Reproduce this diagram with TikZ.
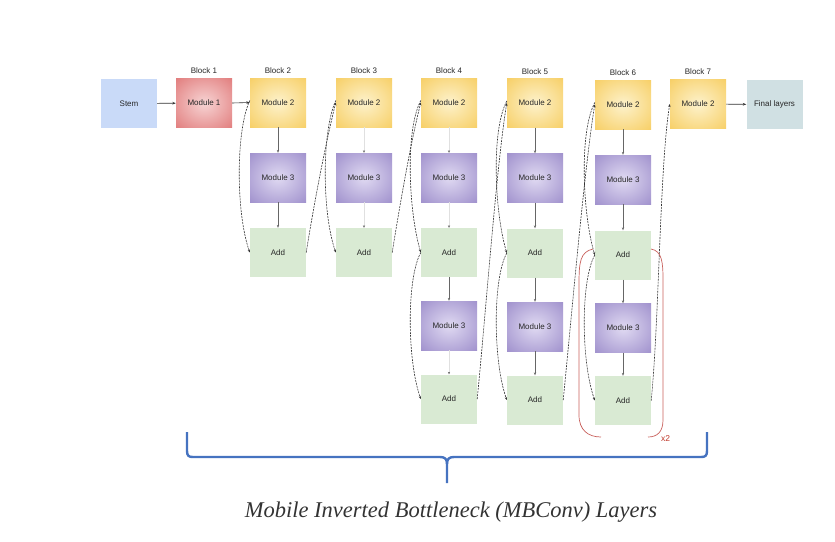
\documentclass[tikz,border=0pt]{standalone}
\usepackage{fontspec}
\setmainfont{Liberation Sans}
\newfontfamily\capfont{Liberation Serif}
\usetikzlibrary{arrows.meta}
\definecolor{stemblue}{HTML}{C9DAF8}
\definecolor{finalc}{HTML}{D0E0E3}
\definecolor{addgreen}{HTML}{D9EAD3}
\definecolor{yout}{HTML}{F5C343}
\definecolor{yin}{HTML}{FDF2CC}
\definecolor{rout}{HTML}{DA6060}
\definecolor{rin}{HTML}{F7D4D4}
\definecolor{pout}{HTML}{8A78C0}
\definecolor{pin}{HTML}{E0DAF2}
\definecolor{parc}{HTML}{C8605C}
\definecolor{xtwo}{HTML}{C0392B}
\definecolor{braceblue}{HTML}{4673C0}
\definecolor{linec}{HTML}{333333}
\pgfdeclareradialshading{yshade}{\pgfpoint{0bp}{0bp}}{color(0bp)=(yin); color(48bp)=(yout); color(60bp)=(yout)}
\pgfdeclareradialshading{rshade}{\pgfpoint{0bp}{0bp}}{color(0bp)=(rin); color(48bp)=(rout); color(60bp)=(rout)}
\pgfdeclareradialshading{pshade}{\pgfpoint{0bp}{0bp}}{color(0bp)=(pin); color(48bp)=(pout); color(60bp)=(pout)}
\begin{document}
\begin{tikzpicture}[x=1pt,y=-1pt,
  box/.style={minimum width=56pt, minimum height=49pt, inner sep=0pt, draw=none,
    font=\fontsize{8}{9.5}\selectfont, text=black!85},
  stembox/.style={box, fill=stemblue},
  finalbox/.style={box, fill=finalc},
  addbox/.style={box, fill=addgreen},
  mtwo/.style={box, shading=yshade},
  mone/.style={box, shading=rshade},
  mthree/.style={box, shading=pshade},
  blk/.style={font=\fontsize{8}{9.5}\selectfont, text=black!85},
  flow/.style={draw=linec, line width=0.6pt, -{Stealth[length=3.5pt,width=2.6pt]}},
  vflow/.style={draw=black!60, line width=0.5pt, -{Stealth[length=3pt,width=2.4pt]}},
  faintflow/.style={draw=black!12, line width=0.4pt, -{Stealth[length=2.5pt,width=2.2pt,color=black!60]}},
  skip/.style={draw=linec, line width=0.6pt, dash pattern=on 2pt off 1pt, -{Stealth[length=3pt,width=2.4pt]}},
  parpath/.style={draw=parc, line width=0.7pt},
]
\useasboundingbox (0,0) rectangle (835,541);

% top row
\node[stembox] (stem) at (129,103.5) {Stem};
\node[mone] (m1) at (204,103) {Module 1};
\node[blk] (l1) at (204,71) {Block 1};

% block 2
\node[mtwo] (b2m2) at (278,102.5) {Module 2};
\node[mthree] (b2m3) at (278,177.5) {Module 3};
\node[addbox] (b2a) at (278,252.5) {Add};
\node[blk] (l2) at (278,71) {Block 2};

% block 3
\node[mtwo] (b3m2) at (364,102.5) {Module 2};
\node[mthree] (b3m3) at (364,177.5) {Module 3};
\node[addbox] (b3a) at (364,252.5) {Add};
\node[blk] (l3) at (364,71) {Block 3};

% block 4
\node[mtwo] (b4m2) at (449,102.5) {Module 2};
\node[mthree] (b4m3) at (449,177.5) {Module 3};
\node[addbox] (b4a) at (449,252.5) {Add};
\node[mthree] (b4m3b) at (449,325.5) {Module 3};
\node[addbox] (b4b) at (449,399) {Add};
\node[blk] (l4) at (449,71) {Block 4};

% block 5
\node[mtwo] (b5m2) at (535,103) {Module 2};
\node[mthree] (b5m3) at (535,178) {Module 3};
\node[addbox] (b5a) at (535,253) {Add};
\node[mthree] (b5m3b) at (535,326.5) {Module 3};
\node[addbox] (b5b) at (535,400) {Add};
\node[blk] (l5) at (535,72) {Block 5};

% block 6
\node[mtwo] (b6m2) at (623,104.5) {Module 2};
\node[mthree] (b6m3) at (623,179.5) {Module 3};
\node[addbox] (b6a) at (623,255) {Add};
\node[mthree] (b6m3b) at (623,328) {Module 3};
\node[addbox] (b6b) at (623,400.5) {Add};
\node[blk] (l6) at (623,73) {Block 6};

% block 7
\node[mtwo] (b7m2) at (698,104) {Module 2};
\node[blk] (l7) at (698,72) {Block 7};
\node[finalbox] (fin) at (774.5,104.5) {Final layers};

% main flow
\draw[flow] (stem) -- (m1);
\draw[flow] (m1.east) -- (b2m2.west);
\draw[flow] (b7m2) -- (fin);

% vertical flows
\draw[vflow] (b2m2) -- (b2m3);
\draw[vflow] (b2m3) -- (b2a);
\draw[faintflow] (b3m2) -- (b3m3);
\draw[faintflow] (b3m3) -- (b3a);
\draw[faintflow] (b4m2) -- (b4m3);
\draw[faintflow] (b4m3) -- (b4a);
\draw[vflow] (b4a) -- (b4m3b);
\draw[faintflow] (b4m3b) -- (b4b);
\draw[vflow] (b5m2) -- (b5m3);
\draw[vflow] (b5m3) -- (b5a);
\draw[vflow] (b5a) -- (b5m3b);
\draw[vflow] (b5m3b) -- (b5b);
\draw[vflow] (b6m2) -- (b6m3);
\draw[vflow] (b6m3) -- (b6a);
\draw[vflow] (b6a) -- (b6m3b);
\draw[vflow] (b6m3b) -- (b6b);

% skip connections within blocks
\draw[skip] ([yshift=2pt]b2m2.west) .. controls +(-14,30) and +(-14,-40) .. (b2a.west);
\draw[skip] ([yshift=2pt]b3m2.west) .. controls +(-14,30) and +(-14,-40) .. (b3a.west);
\draw[skip] ([yshift=2pt]b4m2.west) .. controls +(-16,30) and +(-12,-40) .. (b4a.west);
\draw[skip] (b4a.west) .. controls +(-14,25) and +(-14,-40) .. (b4b.west);
\draw[skip] ([yshift=2pt]b5m2.west) .. controls +(-16,30) and +(-12,-40) .. (b5a.west);
\draw[skip] (b5a.west) .. controls +(-14,25) and +(-14,-40) .. (b5b.west);
\draw[skip] ([yshift=2pt]b6m2.west) .. controls +(-16,30) and +(-12,-40) .. (b6a.west);
\draw[skip] (b6a.west) .. controls +(-14,25) and +(-14,-40) .. (b6b.west);

% skip connections between blocks
\draw[skip] (b2a.east) .. controls +(8,-50) and +(-10,40) .. (b3m2.west);
\draw[skip] (b3a.east) .. controls +(8,-50) and +(-10,40) .. (b4m2.west);
\draw[skip] (b4b.east) .. controls +(8,-80) and +(-10,60) .. (b5m2.west);
\draw[skip] (b5b.east) .. controls +(8,-80) and +(-10,60) .. (b6m2.west);
\draw[skip] (b6b.east) .. controls +(8,-80) and +(-10,60) .. (b7m2.west);

% repeat parentheses
\draw[parpath] (593,249) .. controls (580,252) and (579,262) .. (579,285) -- (579,415)
  .. controls (579,430) and (588,437) .. (601,437);
\draw[parpath] (651,249) .. controls (662,251) and (663,262) .. (663,280) -- (663,420)
  .. controls (663,432) and (657,437) .. (648,437);
\node[text=xtwo, font=\fontsize{8.5}{9}\selectfont] (xtwo) at (665.5,438.5) {x2};

% brace
\draw[draw=braceblue, line width=2.4pt, line join=round]
  (187,432) -- (187,451) .. controls (187,456) and (189,457) .. (193,457) -- (440,457)
  .. controls (445,457) and (447,459) .. (447,464) -- (447,483);
\draw[draw=braceblue, line width=2.4pt, line join=round]
  (707,432) -- (707,451) .. controls (707,456) and (705,457) .. (701,457) -- (454,457)
  .. controls (449,457) and (447,459) .. (447,464);

\node[font=\capfont\itshape\fontsize{22.5}{25}\selectfont, text=black!80] (cap) at (451,512) {Mobile Inverted Bottleneck (MBConv) Layers};
\end{tikzpicture}
\end{document}
